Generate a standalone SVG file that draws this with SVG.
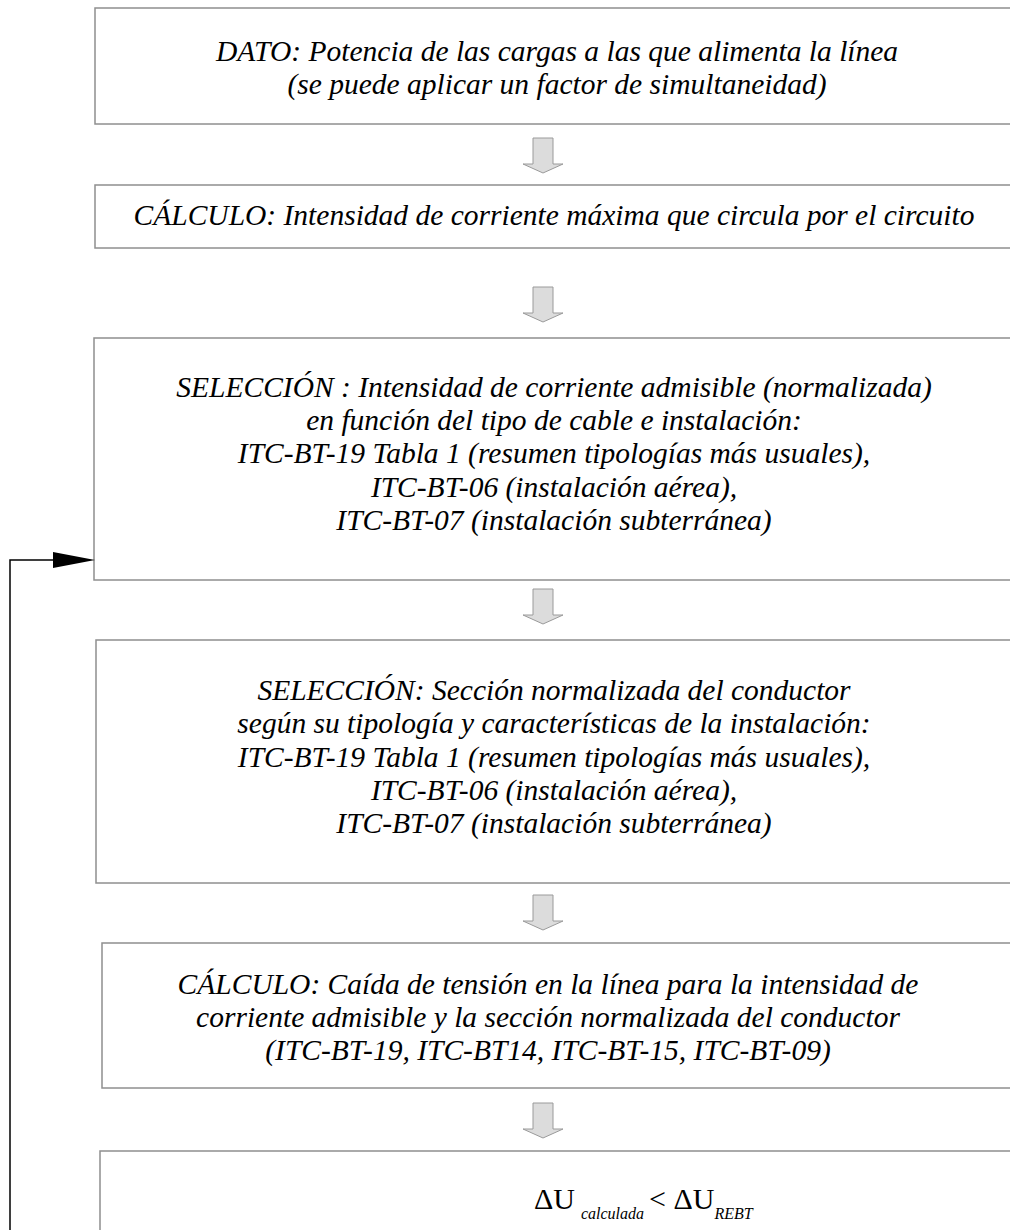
<svg xmlns="http://www.w3.org/2000/svg" width="1010" height="1230" viewBox="0 0 1010 1230">
<defs>
<style>
.box{fill:#fff;stroke:#8f8f8f;stroke-width:1.5}
.t{font-style:italic;font-size:29.5px;fill:#000;text-anchor:middle}
.f{font-size:30px;fill:#000}
.sub{font-style:italic;font-size:16px;fill:#000}
.arr{fill:#dcdcdc;stroke:#9a9a9a;stroke-width:1}
</style>
</defs>
<rect width="1010" height="1230" fill="#fff"/>
<g font-family="Liberation Serif, Times New Roman, DejaVu Serif, serif">
<g id="n1">
<rect class="box" x="95" y="8" width="930" height="116"/>
<text class="t" x="557" y="61">DATO: Potencia de las cargas a las que alimenta la línea</text>
<text class="t" x="557" y="94">(se puede aplicar un factor de simultaneidad)</text>
</g>
<g id="n2">
<rect class="box" x="95" y="185" width="930" height="63"/>
<text class="t" x="554" y="225">CÁLCULO: Intensidad de corriente máxima que circula por el circuito</text>
</g>
<g id="n3">
<rect class="box" x="94" y="338" width="930" height="242"/>
<text class="t" x="554" y="397">SELECCIÓN : Intensidad de corriente admisible (normalizada)</text>
<text class="t" x="554" y="430">en función del tipo de cable e instalación:</text>
<text class="t" x="554" y="463">ITC-BT-19 Tabla 1 (resumen tipologías más usuales),</text>
<text class="t" x="554" y="497">ITC-BT-06 (instalación aérea),</text>
<text class="t" x="554" y="530">ITC-BT-07 (instalación subterránea)</text>
</g>
<g id="n4">
<rect class="box" x="96" y="640" width="930" height="243"/>
<text class="t" x="554" y="700">SELECCIÓN: Sección normalizada del conductor</text>
<text class="t" x="554" y="733">según su tipología y características de la instalación:</text>
<text class="t" x="554" y="767">ITC-BT-19 Tabla 1 (resumen tipologías más usuales),</text>
<text class="t" x="554" y="800">ITC-BT-06 (instalación aérea),</text>
<text class="t" x="554" y="833">ITC-BT-07 (instalación subterránea)</text>
</g>
<g id="n5">
<rect class="box" x="102" y="943" width="930" height="145"/>
<text class="t" x="548" y="994">CÁLCULO: Caída de tensión en la línea para la intensidad de</text>
<text class="t" x="548" y="1027">corriente admisible y la sección normalizada del conductor</text>
<text class="t" x="548" y="1060">(ITC-BT-19, ITC-BT14, ITC-BT-15, ITC-BT-09)</text>
</g>
<g id="n6">
<rect class="box" x="100" y="1151" width="930" height="100"/>
<text x="534" y="1209"><tspan class="f">ΔU</tspan><tspan class="sub" dx="6" dy="10">calculada</tspan><tspan class="f" dx="5" dy="-10">&lt; ΔU</tspan><tspan class="sub" dy="10">REBT</tspan></text>
</g>
</g>
<g id="connectors">
<polygon class="arr" points="533,138 553,138 553,164 563,164 543,173 523,164 533,164 533,138"/>
<polygon class="arr" points="533,287 553,287 553,313 563,313 543,322 523,313 533,313 533,287"/>
<polygon class="arr" points="533,589 553,589 553,615 563,615 543,624 523,615 533,615 533,589"/>
<polygon class="arr" points="533,895 553,895 553,921 563,921 543,930 523,921 533,921 533,895"/>
<polygon class="arr" points="533,1103 553,1103 553,1129 563,1129 543,1138 523,1129 533,1129 533,1103"/>
<path d="M10,1232 L10,560 L55,560" fill="none" stroke="#000" stroke-width="1.5"/>
<polygon points="53,552 95,560 53,568" fill="#000"/>
</g>
</svg>
